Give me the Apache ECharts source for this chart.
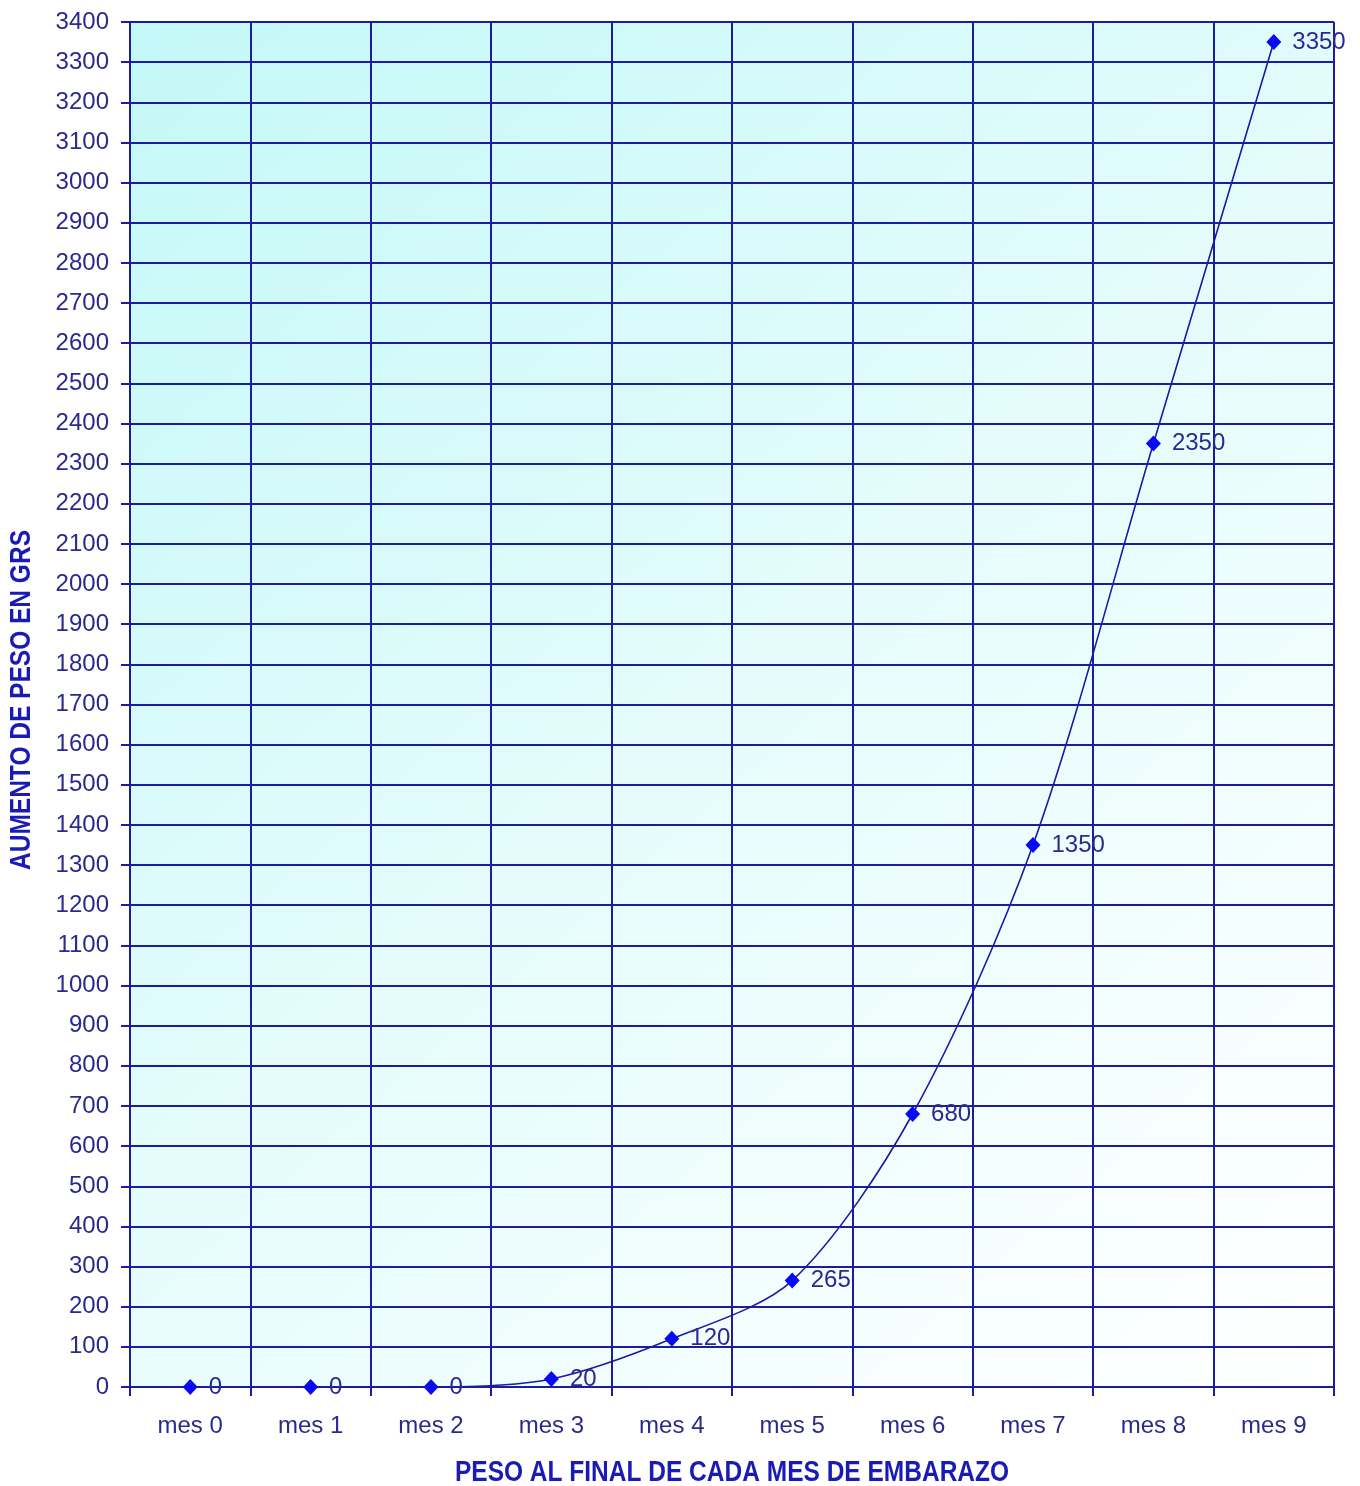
<!DOCTYPE html>
<html>
<head>
<meta charset="utf-8">
<title>Aumento de peso</title>
<script src="https://cdn.jsdelivr.net/npm/echarts@6/dist/echarts.min.js"></script>
<style>
  html, body { margin: 0; padding: 0; background: #ffffff; }
  #chart { width: 1360px; height: 1486px; }
</style>
</head>
<body>
<div id="chart"></div>
<script>
// Monthly categories and weight gain (grams) at the end of each month
const categories = ['mes 0', 'mes 1', 'mes 2', 'mes 3', 'mes 4', 'mes 5', 'mes 6', 'mes 7', 'mes 8', 'mes 9'];
const pesoGramos = [0, 0, 0, 20, 120, 265, 680, 1350, 2350, 3350];
const yMin = 0;
const yMax = 3400;
const yStep = 100;

const xAxisTitle = 'PESO AL FINAL DE CADA MES DE EMBARAZO';
const yAxisTitle = 'AUMENTO DE PESO EN GRS';

const navy = '#1c1c9e';
const labelColor = '#2a2a8e';
const titleColor = '#1a1ab4';
const baseFont = "'Liberation Sans', Arial, sans-serif";

const gridBox = { left: 130, right: 26, top: 22, bottom: 99 };
const W = 1360, H = 1486;

const chart = echarts.init(document.getElementById('chart'), null, { renderer: 'canvas' });

// Condensed bold titles: regular bold face squeezed along the text direction
function titleText(text, x, y, rotation) {
  return {
    type: 'text',
    x: x,
    y: y,
    rotation: rotation,
    scaleX: 0.845,
    scaleY: 1,
    style: {
      text: text,
      fill: titleColor,
      font: "bold 29px 'Liberation Sans', Arial, sans-serif",
      align: 'center',
      verticalAlign: 'middle'
    },
    silent: true
  };
}

chart.setOption({
  animation: false,
  backgroundColor: '#ffffff',
  grid: {
    left: gridBox.left,
    right: gridBox.right,
    top: gridBox.top,
    bottom: gridBox.bottom,
    outerBoundsMode: 'none',
    containLabel: false,
    show: true,
    borderWidth: 0,
    backgroundColor: new echarts.graphic.LinearGradient(0, 0, 1, 1, [
      { offset: 0, color: '#c4f8f8' },
      { offset: 0.55, color: '#e8fcfc' },
      { offset: 1, color: '#ffffff' }
    ])
  },
  graphic: [
    titleText(xAxisTitle, (gridBox.left + W - gridBox.right) / 2, 1473, 0),
    titleText(yAxisTitle, 22, 700, Math.PI / 2)
  ],
  xAxis: {
    type: 'category',
    data: categories,
    boundaryGap: true,
    axisLine: { show: true, lineStyle: { color: navy, width: 2 } },
    axisTick: { show: true, length: 9, lineStyle: { color: navy, width: 2 } },
    axisLabel: {
      color: labelColor,
      fontFamily: baseFont,
      fontSize: 24,
      margin: 27
    },
    splitLine: { show: true, lineStyle: { color: navy, width: 2 } }
  },
  yAxis: {
    type: 'value',
    min: yMin,
    max: yMax,
    interval: yStep,
    axisLine: { show: true, lineStyle: { color: navy, width: 2 } },
    axisTick: { show: true, length: 9, lineStyle: { color: navy, width: 2 } },
    axisLabel: {
      color: labelColor,
      fontFamily: baseFont,
      fontSize: 24,
      margin: 21,
      formatter: function (v) { return String(v); }
    },
    splitLine: { show: true, lineStyle: { color: navy, width: 2 } }
  },
  series: [{
    type: 'line',
    data: pesoGramos,
    smooth: 0.3,
    symbol: 'diamond',
    symbolSize: [15, 16],
    itemStyle: { color: '#0a0af0' },
    lineStyle: { color: '#1a1aa6', width: 1.6 },
    label: {
      show: true,
      position: 'right',
      distance: 11,
      color: labelColor,
      fontFamily: baseFont,
      fontSize: 24
    },
    z: 3
  }]
});
</script>
</body>
</html>
